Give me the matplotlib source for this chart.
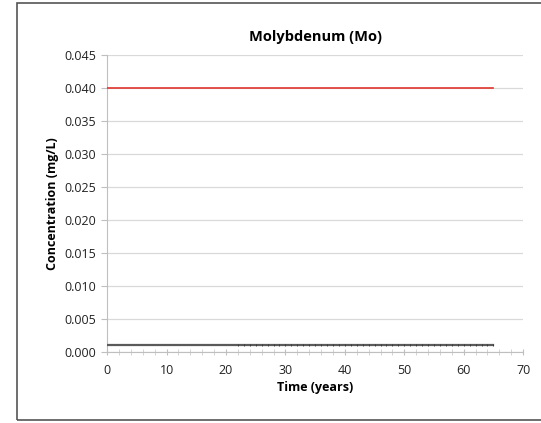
import matplotlib.pyplot as plt
from matplotlib.patches import Rectangle
from matplotlib.ticker import MultipleLocator

plt.rcParams['font.family'] = ['Open Sans', 'DejaVu Sans']

# Molybdenum concentration over time (mg/L)
years_line = [0, 5, 10, 15, 20, 22]
conc_line = [0.001, 0.001, 0.001, 0.001, 0.001, 0.001]
years_pts = [22, 23, 24, 25, 26, 27, 28, 29, 30, 31, 32, 33, 34, 35, 36, 37, 38, 39, 40, 41, 42, 43,
             44, 45, 46, 47, 48, 49, 50, 51, 52, 53, 54, 55, 56, 57, 58, 59, 60, 61, 62, 63, 64, 65]
conc_pts = [0.001] * len(years_pts)
# guideline value
guide_years = [0, 65]
guide_conc = [0.040, 0.040]

fig = plt.figure(figsize=(5.41, 4.23), dpi=100)
ax = fig.add_axes([0.198, 0.168, 0.769, 0.702])

ax.plot(guide_years, guide_conc, color='#e0352b', lw=1.2, zorder=3)
ax.plot(years_line + years_pts, conc_line + conc_pts, color='#5a5a5a', lw=1.6, zorder=3)
ax.plot(years_pts, conc_pts, ls='none', marker='|', ms=2, mew=0.6, color='#333333', zorder=4)

ax.set_xlim(0, 70)
ax.set_ylim(0, 0.045)
ax.xaxis.set_major_locator(MultipleLocator(10))
ax.xaxis.set_minor_locator(MultipleLocator(2))
ax.yaxis.set_major_locator(MultipleLocator(0.005))
ax.yaxis.set_major_formatter(plt.FuncFormatter(lambda v, p: f'{v:.3f}'))

ax.grid(axis='y', color='#d9d9d9', lw=0.9)
ax.set_axisbelow(True)
for s in ['top', 'right']:
    ax.spines[s].set_visible(False)
ax.spines['left'].set_color('#bfbfbf')
ax.spines['bottom'].set_color('#bfbfbf')
ax.tick_params(axis='both', colors='#bfbfbf', labelcolor='#222222', labelsize=9)
ax.tick_params(axis='x', which='major', length=5, direction='inout', pad=6)
ax.tick_params(axis='x', which='minor', length=4, direction='inout', colors='#cccccc')
ax.tick_params(axis='y', length=4, direction='out', pad=4)

ax.set_title('Molybdenum (Mo)', fontsize=10.5, fontweight='bold', pad=10)
ax.set_xlabel('Time (years)', fontsize=9, fontweight='bold', labelpad=3)
ax.set_ylabel('Concentration (mg/L)', fontsize=9, fontweight='bold', labelpad=4)

fig.patches.append(Rectangle((17 / 541, 3 / 423), 1.0, 417 / 423, transform=fig.transFigure,
                             fill=False, edgecolor='#555555', lw=1.2))

fig.savefig('out.png', dpi=100)
